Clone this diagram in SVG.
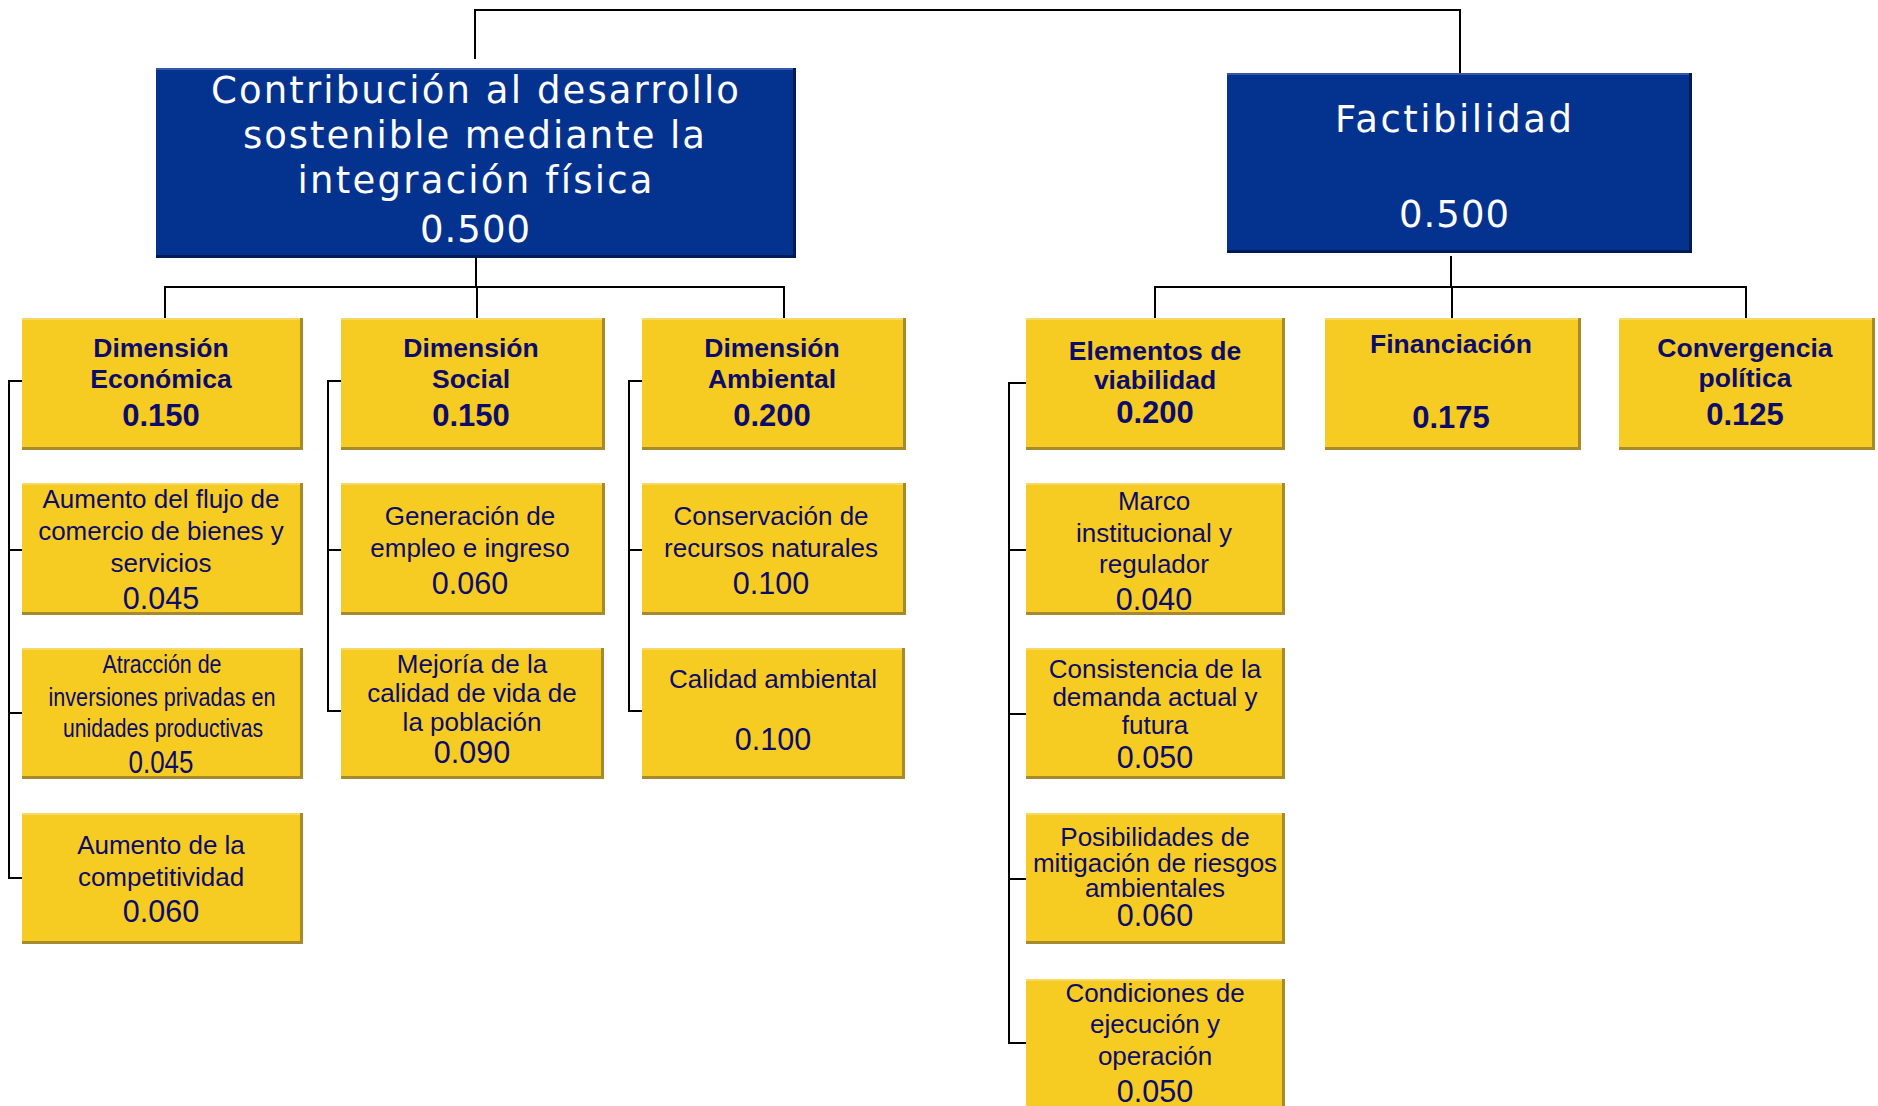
<svg xmlns="http://www.w3.org/2000/svg" width="1878" height="1106" viewBox="0 0 1878 1106">
<style>
.bg{fill:#ffffff}
.bshade{fill:#001a55}
.bfill{fill:#04338f}
.bhi{fill:#3558a6}
.yshade{fill:#a88a2e}
.yfill{fill:#f6cb22}
.yhi{fill:#f8d967}
.wt{font-family:"DejaVu Sans","Liberation Sans",sans-serif;fill:#ffffff;text-anchor:middle}
.t{font-family:"Liberation Sans",Arial,sans-serif;fill:#0c0c6c;text-anchor:middle;font-size:26px}
.h{font-family:"Liberation Sans",Arial,sans-serif;fill:#0c0c6c;text-anchor:middle;font-size:26.5px;font-weight:bold}
.hn{font-family:"Liberation Sans",Arial,sans-serif;fill:#0c0c6c;text-anchor:middle;font-size:31px;font-weight:bold}
.n{font-family:"Liberation Sans",Arial,sans-serif;fill:#0c0c6c;text-anchor:middle;font-size:30.5px}
.c{fill:none;stroke:#000000;stroke-width:2}
</style>
<rect class="bg" x="0" y="0" width="1878" height="1106"/>
<g id="connectors">
<path class="c" d="M475,59 V10 H1460 V73"/>
<path class="c" d="M476,258 V287 M165,318 V287 H784 V318 M477,287 V318"/>
<path class="c" d="M1451,256 V287 M1155,318 V287 H1746 V318 M1452,287 V318"/>
<path class="c" d="M22,381 H9 V878 H22 M9,550 H22 M9,713 H22"/>
<path class="c" d="M341,381 H328 V711 H341 M328,550 H341"/>
<path class="c" d="M642,381 H629 V711 H642 M629,550 H642"/>
<path class="c" d="M1026,383 H1009 V1043 H1026 M1009,550 H1026 M1009,714 H1026 M1009,879 H1026"/>
</g>
<g id="contribucion">
<rect class="bshade" x="156" y="68" width="640" height="190"/>
<rect class="bfill" x="156" y="68" width="637" height="187"/>
<rect class="bhi" x="156" y="68" width="637" height="2"/>
<text class="wt" x="475" y="103" font-size="37" textLength="528" lengthAdjust="spacing">Contribución al desarrollo</text>
<text class="wt" x="474" y="148" font-size="37" textLength="462" lengthAdjust="spacing">sostenible mediante la</text>
<text class="wt" x="475" y="193" font-size="37" textLength="355" lengthAdjust="spacing">integración física</text>
<text class="wt" x="475" y="242" font-size="37" textLength="110" lengthAdjust="spacing">0.500</text>
</g>
<g id="factibilidad">
<rect class="bshade" x="1227" y="73" width="465" height="180"/>
<rect class="bfill" x="1227" y="73" width="462" height="177"/>
<rect class="bhi" x="1227" y="73" width="462" height="2"/>
<text class="wt" x="1453.5" y="132" font-size="37" textLength="237" lengthAdjust="spacing">Factibilidad</text>
<text class="wt" x="1454" y="227" font-size="37" textLength="110" lengthAdjust="spacing">0.500</text>
</g>
<g id="dim-economica">
<rect class="yshade" x="22" y="318" width="281" height="132"/>
<rect class="yfill" x="22" y="318" width="278" height="129"/>
<rect class="yhi" x="22" y="318" width="278" height="2"/>
<text class="h" x="161" y="357">Dimensión</text>
<text class="h" x="161" y="388">Económica</text>
<text class="hn" x="161" y="426">0.150</text>
</g>
<g id="dim-social">
<rect class="yshade" x="341" y="318" width="264" height="132"/>
<rect class="yfill" x="341" y="318" width="261" height="129"/>
<rect class="yhi" x="341" y="318" width="261" height="2"/>
<text class="h" x="471" y="357">Dimensión</text>
<text class="h" x="471" y="388">Social</text>
<text class="hn" x="471" y="426">0.150</text>
</g>
<g id="dim-ambiental">
<rect class="yshade" x="642" y="318" width="264" height="132"/>
<rect class="yfill" x="642" y="318" width="261" height="129"/>
<rect class="yhi" x="642" y="318" width="261" height="2"/>
<text class="h" x="772" y="357">Dimensión</text>
<text class="h" x="772" y="388">Ambiental</text>
<text class="hn" x="772" y="426">0.200</text>
</g>
<g id="elementos-viabilidad">
<rect class="yshade" x="1026" y="318" width="259" height="132"/>
<rect class="yfill" x="1026" y="318" width="256" height="129"/>
<rect class="yhi" x="1026" y="318" width="256" height="2"/>
<text class="h" x="1155" y="360">Elementos de</text>
<text class="h" x="1155" y="389">viabilidad</text>
<text class="hn" x="1155" y="423">0.200</text>
</g>
<g id="financiacion">
<rect class="yshade" x="1325" y="318" width="256" height="132"/>
<rect class="yfill" x="1325" y="318" width="253" height="129"/>
<rect class="yhi" x="1325" y="318" width="253" height="2"/>
<text class="h" x="1451" y="353">Financiación</text>
<text class="hn" x="1451" y="428">0.175</text>
</g>
<g id="convergencia">
<rect class="yshade" x="1619" y="318" width="256" height="132"/>
<rect class="yfill" x="1619" y="318" width="253" height="129"/>
<rect class="yhi" x="1619" y="318" width="253" height="2"/>
<text class="h" x="1745" y="357">Convergencia</text>
<text class="h" x="1745" y="387">política</text>
<text class="hn" x="1745" y="425">0.125</text>
</g>
<g id="flujo-comercio">
<rect class="yshade" x="22" y="483" width="281" height="132"/>
<rect class="yfill" x="22" y="483" width="278" height="129"/>
<rect class="yhi" x="22" y="483" width="278" height="2"/>
<text class="t" x="161" y="508">Aumento del flujo de</text>
<text class="t" x="161" y="540">comercio de bienes y</text>
<text class="t" x="161" y="572">servicios</text>
<text class="n" x="161" y="609">0.045</text>
</g>
<g id="atraccion-inversiones">
<rect class="yshade" x="22" y="648" width="281" height="131"/>
<rect class="yfill" x="22" y="648" width="278" height="128"/>
<rect class="yhi" x="22" y="648" width="278" height="2"/>
<text class="t" x="162" y="673" font-size="25" textLength="119" lengthAdjust="spacingAndGlyphs">Atracción de</text>
<text class="t" x="162" y="706" font-size="25" textLength="227" lengthAdjust="spacingAndGlyphs">inversiones privadas en</text>
<text class="t" x="163" y="737" font-size="25" textLength="200" lengthAdjust="spacingAndGlyphs">unidades productivas</text>
<text class="n" x="161" y="773" font-size="27" textLength="65" lengthAdjust="spacingAndGlyphs">0.045</text>
</g>
<g id="competitividad">
<rect class="yshade" x="22" y="813" width="281" height="131"/>
<rect class="yfill" x="22" y="813" width="278" height="128"/>
<rect class="yhi" x="22" y="813" width="278" height="2"/>
<text class="t" x="161" y="854">Aumento de la</text>
<text class="t" x="161" y="886">competitividad</text>
<text class="n" x="161" y="922">0.060</text>
</g>
<g id="empleo-ingreso">
<rect class="yshade" x="341" y="483" width="264" height="132"/>
<rect class="yfill" x="341" y="483" width="261" height="129"/>
<rect class="yhi" x="341" y="483" width="261" height="2"/>
<text class="t" x="470" y="525">Generación de</text>
<text class="t" x="470" y="557">empleo e ingreso</text>
<text class="n" x="470" y="594">0.060</text>
</g>
<g id="calidad-vida">
<rect class="yshade" x="341" y="648" width="263" height="131"/>
<rect class="yfill" x="341" y="648" width="260" height="128"/>
<rect class="yhi" x="341" y="648" width="260" height="2"/>
<text class="t" x="472" y="673">Mejoría de la</text>
<text class="t" x="472" y="702">calidad de vida de</text>
<text class="t" x="472" y="731">la población</text>
<text class="n" x="472" y="763">0.090</text>
</g>
<g id="recursos-naturales">
<rect class="yshade" x="642" y="483" width="264" height="132"/>
<rect class="yfill" x="642" y="483" width="261" height="129"/>
<rect class="yhi" x="642" y="483" width="261" height="2"/>
<text class="t" x="771" y="525">Conservación de</text>
<text class="t" x="771" y="557">recursos naturales</text>
<text class="n" x="771" y="594">0.100</text>
</g>
<g id="calidad-ambiental">
<rect class="yshade" x="642" y="648" width="263" height="131"/>
<rect class="yfill" x="642" y="648" width="260" height="128"/>
<rect class="yhi" x="642" y="648" width="260" height="2"/>
<text class="t" x="773" y="688">Calidad ambiental</text>
<text class="n" x="773" y="750">0.100</text>
</g>
<g id="marco-institucional">
<rect class="yshade" x="1026" y="483" width="259" height="132"/>
<rect class="yfill" x="1026" y="483" width="256" height="129"/>
<rect class="yhi" x="1026" y="483" width="256" height="2"/>
<text class="t" x="1154" y="510">Marco</text>
<text class="t" x="1154" y="542">institucional y</text>
<text class="t" x="1154" y="573">regulador</text>
<text class="n" x="1154" y="610">0.040</text>
</g>
<g id="consistencia-demanda">
<rect class="yshade" x="1026" y="648" width="259" height="131"/>
<rect class="yfill" x="1026" y="648" width="256" height="128"/>
<rect class="yhi" x="1026" y="648" width="256" height="2"/>
<text class="t" x="1155" y="678">Consistencia de la</text>
<text class="t" x="1155" y="706">demanda actual y</text>
<text class="t" x="1155" y="734">futura</text>
<text class="n" x="1155" y="768">0.050</text>
</g>
<g id="mitigacion-riesgos">
<rect class="yshade" x="1026" y="813" width="259" height="131"/>
<rect class="yfill" x="1026" y="813" width="256" height="128"/>
<rect class="yhi" x="1026" y="813" width="256" height="2"/>
<text class="t" x="1155" y="846">Posibilidades de</text>
<text class="t" x="1155" y="872">mitigación de riesgos</text>
<text class="t" x="1155" y="897">ambientales</text>
<text class="n" x="1155" y="926">0.060</text>
</g>
<g id="condiciones-ejecucion">
<rect class="yshade" x="1026" y="979" width="259" height="140"/>
<rect class="yfill" x="1026" y="979" width="256" height="137"/>
<rect class="yhi" x="1026" y="979" width="256" height="2"/>
<text class="t" x="1155" y="1002">Condiciones de</text>
<text class="t" x="1155" y="1033">ejecución y</text>
<text class="t" x="1155" y="1065">operación</text>
<text class="n" x="1155" y="1102">0.050</text>
</g>
</svg>
